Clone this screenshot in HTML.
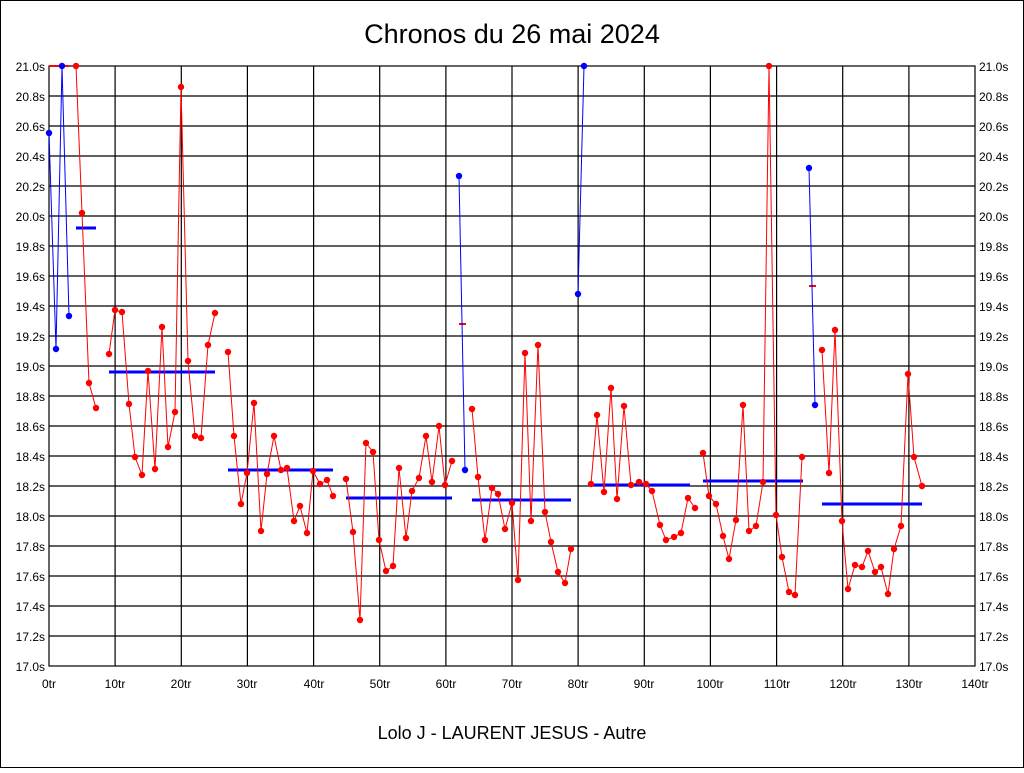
<!DOCTYPE html>
<html><head><meta charset="utf-8"><style>
body{margin:0;background:#fff;}
svg text{font-family:"Liberation Sans",sans-serif;}
</style></head><body>
<svg width="1024" height="768" viewBox="0 0 1024 768" xmlns="http://www.w3.org/2000/svg">
<rect x="0" y="0" width="1024" height="768" fill="#fff" stroke="#000" stroke-width="2"/>
<text x="512" y="43" font-size="27" text-anchor="middle">Chronos du 26 mai 2024</text>
<text x="512" y="739" font-size="18" text-anchor="middle">Lolo J - LAURENT JESUS - Autre</text>
<g stroke="#000" stroke-width="1.2" fill="none">
<rect x="49" y="66" width="926" height="600"/>
<path d="M49 96H975M49 126H975M49 156H975M49 186H975M49 216H975M49 246H975M49 276H975M49 306H975M49 336H975M49 366H975M49 396H975M49 426H975M49 456H975M49 486H975M49 516H975M49 546H975M49 576H975M49 606H975M49 636H975"/>
<path d="M115.1 66V666M181.3 66V666M247.4 66V666M313.6 66V666M379.7 66V666M445.9 66V666M512 66V666M578.1 66V666M644.3 66V666M710.4 66V666M776.6 66V666M842.7 66V666M908.9 66V666"/>
</g>
<g font-size="12" text-anchor="end">
<text x="45" y="71">21.0s</text><text x="45" y="101">20.8s</text><text x="45" y="131">20.6s</text><text x="45" y="161">20.4s</text><text x="45" y="191">20.2s</text><text x="45" y="221">20.0s</text><text x="45" y="251">19.8s</text><text x="45" y="281">19.6s</text><text x="45" y="311">19.4s</text><text x="45" y="341">19.2s</text><text x="45" y="371">19.0s</text><text x="45" y="401">18.8s</text><text x="45" y="431">18.6s</text><text x="45" y="461">18.4s</text><text x="45" y="491">18.2s</text><text x="45" y="521">18.0s</text><text x="45" y="551">17.8s</text><text x="45" y="581">17.6s</text><text x="45" y="611">17.4s</text><text x="45" y="641">17.2s</text><text x="45" y="671">17.0s</text>
</g>
<g font-size="12" text-anchor="start">
<text x="979" y="71">21.0s</text><text x="979" y="101">20.8s</text><text x="979" y="131">20.6s</text><text x="979" y="161">20.4s</text><text x="979" y="191">20.2s</text><text x="979" y="221">20.0s</text><text x="979" y="251">19.8s</text><text x="979" y="281">19.6s</text><text x="979" y="311">19.4s</text><text x="979" y="341">19.2s</text><text x="979" y="371">19.0s</text><text x="979" y="401">18.8s</text><text x="979" y="431">18.6s</text><text x="979" y="461">18.4s</text><text x="979" y="491">18.2s</text><text x="979" y="521">18.0s</text><text x="979" y="551">17.8s</text><text x="979" y="581">17.6s</text><text x="979" y="611">17.4s</text><text x="979" y="641">17.2s</text><text x="979" y="671">17.0s</text>
</g>
<g font-size="12" text-anchor="middle">
<text x="49" y="688">0tr</text><text x="115" y="688">10tr</text><text x="181" y="688">20tr</text><text x="247" y="688">30tr</text><text x="314" y="688">40tr</text><text x="380" y="688">50tr</text><text x="446" y="688">60tr</text><text x="512" y="688">70tr</text><text x="578" y="688">80tr</text><text x="644" y="688">90tr</text><text x="710" y="688">100tr</text><text x="777" y="688">110tr</text><text x="843" y="688">120tr</text><text x="909" y="688">130tr</text><text x="975" y="688">140tr</text>
</g>
<!-- averages -->
<g stroke="#00f" stroke-width="3">
<path d="M76 228H96M109 372H215M228 470H333M346 498H452M472 500H571M591 485H690M703 481H803M822 504H922"/>
</g>
<g stroke="#f00" stroke-width="2"><path d="M49 66H69M459 324H466M809 286H816"/></g>
<!-- blue series -->
<g fill="none" stroke="#00f" stroke-width="1">
<polyline points="49,133 56,349 62,66 69,316"/>
<polyline points="459,176 465,470"/>
<polyline points="578,294 584,66"/>
<polyline points="809,168 815,405"/>
</g>
<g fill="#00f">
<circle cx="49" cy="133" r="3.2"/><circle cx="56" cy="349" r="3.2"/><circle cx="62" cy="66" r="3.2"/><circle cx="69" cy="316" r="3.2"/>
<circle cx="459" cy="176" r="3.2"/><circle cx="465" cy="470" r="3.2"/>
<circle cx="578" cy="294" r="3.2"/><circle cx="584" cy="66" r="3.2"/>
<circle cx="809" cy="168" r="3.2"/><circle cx="815" cy="405" r="3.2"/>
</g>
<!-- red series -->
<g fill="none" stroke="#f00" stroke-width="1" id="r">
<polyline points="76,66 82,213 89,383 96,408"/>
<polyline points="109,354 115,310 122,312 129,404 135,457 142,475 148,371 155,469 162,327 168,447 175,412 181,87 188,361 195,436 201,438 208,345 215,313"/>
<polyline points="228,352 234,436 241,504 247,473 254,403 261,531 267,474 274,436 281,470 287,468 294,521 300,506 307,533 313,471 320,484 327,480 333,496"/>
<polyline points="346,479 353,532 360,620 366,443 373,452 379,540 386,571 393,566 399,468 406,538 412,491 419,478 426,436 432,482 439,426 445,485 452,461"/>
<polyline points="472,409 478,477 485,540 492,488 498,494 505,529 512,503 518,580 525,353 531,521 538,345 545,512 551,542 558,572 565,583 571,549"/>
<polyline points="591,484 597,415 604,492 611,388 617,499 624,406 631,485 639,482 646,484 652,491 660,525 666,540 674,537 681,533 688,498 695,508"/>
<polyline points="703,453 709,496 716,504 723,536 729,559 736,520 743,405 749,531 756,526 763,482 769,66 776,515 782,557 789,592 795,595 802,457"/>
<polyline points="822,350 829,473 835,330 842,521 848,589 855,565 862,567 868,551 875,572 881,567 888,594 894,549 901,526 908,374 914,457 922,486"/>
</g>
<g fill="#f00">
<script>0</script>
</g>
<g fill="#f00">
<circle cx="76" cy="66" r="3.2"/><circle cx="82" cy="213" r="3.2"/><circle cx="89" cy="383" r="3.2"/><circle cx="96" cy="408" r="3.2"/>
<circle cx="109" cy="354" r="3.2"/><circle cx="115" cy="310" r="3.2"/><circle cx="122" cy="312" r="3.2"/><circle cx="129" cy="404" r="3.2"/><circle cx="135" cy="457" r="3.2"/><circle cx="142" cy="475" r="3.2"/><circle cx="148" cy="371" r="3.2"/><circle cx="155" cy="469" r="3.2"/><circle cx="162" cy="327" r="3.2"/><circle cx="168" cy="447" r="3.2"/><circle cx="175" cy="412" r="3.2"/><circle cx="181" cy="87" r="3.2"/><circle cx="188" cy="361" r="3.2"/><circle cx="195" cy="436" r="3.2"/><circle cx="201" cy="438" r="3.2"/><circle cx="208" cy="345" r="3.2"/><circle cx="215" cy="313" r="3.2"/>
<circle cx="228" cy="352" r="3.2"/><circle cx="234" cy="436" r="3.2"/><circle cx="241" cy="504" r="3.2"/><circle cx="247" cy="473" r="3.2"/><circle cx="254" cy="403" r="3.2"/><circle cx="261" cy="531" r="3.2"/><circle cx="267" cy="474" r="3.2"/><circle cx="274" cy="436" r="3.2"/><circle cx="281" cy="470" r="3.2"/><circle cx="287" cy="468" r="3.2"/><circle cx="294" cy="521" r="3.2"/><circle cx="300" cy="506" r="3.2"/><circle cx="307" cy="533" r="3.2"/><circle cx="313" cy="471" r="3.2"/><circle cx="320" cy="484" r="3.2"/><circle cx="327" cy="480" r="3.2"/><circle cx="333" cy="496" r="3.2"/>
<circle cx="346" cy="479" r="3.2"/><circle cx="353" cy="532" r="3.2"/><circle cx="360" cy="620" r="3.2"/><circle cx="366" cy="443" r="3.2"/><circle cx="373" cy="452" r="3.2"/><circle cx="379" cy="540" r="3.2"/><circle cx="386" cy="571" r="3.2"/><circle cx="393" cy="566" r="3.2"/><circle cx="399" cy="468" r="3.2"/><circle cx="406" cy="538" r="3.2"/><circle cx="412" cy="491" r="3.2"/><circle cx="419" cy="478" r="3.2"/><circle cx="426" cy="436" r="3.2"/><circle cx="432" cy="482" r="3.2"/><circle cx="439" cy="426" r="3.2"/><circle cx="445" cy="485" r="3.2"/><circle cx="452" cy="461" r="3.2"/>
<circle cx="472" cy="409" r="3.2"/><circle cx="478" cy="477" r="3.2"/><circle cx="485" cy="540" r="3.2"/><circle cx="492" cy="488" r="3.2"/><circle cx="498" cy="494" r="3.2"/><circle cx="505" cy="529" r="3.2"/><circle cx="512" cy="503" r="3.2"/><circle cx="518" cy="580" r="3.2"/><circle cx="525" cy="353" r="3.2"/><circle cx="531" cy="521" r="3.2"/><circle cx="538" cy="345" r="3.2"/><circle cx="545" cy="512" r="3.2"/><circle cx="551" cy="542" r="3.2"/><circle cx="558" cy="572" r="3.2"/><circle cx="565" cy="583" r="3.2"/><circle cx="571" cy="549" r="3.2"/>
<circle cx="591" cy="484" r="3.2"/><circle cx="597" cy="415" r="3.2"/><circle cx="604" cy="492" r="3.2"/><circle cx="611" cy="388" r="3.2"/><circle cx="617" cy="499" r="3.2"/><circle cx="624" cy="406" r="3.2"/><circle cx="631" cy="485" r="3.2"/><circle cx="639" cy="482" r="3.2"/><circle cx="646" cy="484" r="3.2"/><circle cx="652" cy="491" r="3.2"/><circle cx="660" cy="525" r="3.2"/><circle cx="666" cy="540" r="3.2"/><circle cx="674" cy="537" r="3.2"/><circle cx="681" cy="533" r="3.2"/><circle cx="688" cy="498" r="3.2"/><circle cx="695" cy="508" r="3.2"/>
<circle cx="703" cy="453" r="3.2"/><circle cx="709" cy="496" r="3.2"/><circle cx="716" cy="504" r="3.2"/><circle cx="723" cy="536" r="3.2"/><circle cx="729" cy="559" r="3.2"/><circle cx="736" cy="520" r="3.2"/><circle cx="743" cy="405" r="3.2"/><circle cx="749" cy="531" r="3.2"/><circle cx="756" cy="526" r="3.2"/><circle cx="763" cy="482" r="3.2"/><circle cx="769" cy="66" r="3.2"/><circle cx="776" cy="515" r="3.2"/><circle cx="782" cy="557" r="3.2"/><circle cx="789" cy="592" r="3.2"/><circle cx="795" cy="595" r="3.2"/><circle cx="802" cy="457" r="3.2"/>
<circle cx="822" cy="350" r="3.2"/><circle cx="829" cy="473" r="3.2"/><circle cx="835" cy="330" r="3.2"/><circle cx="842" cy="521" r="3.2"/><circle cx="848" cy="589" r="3.2"/><circle cx="855" cy="565" r="3.2"/><circle cx="862" cy="567" r="3.2"/><circle cx="868" cy="551" r="3.2"/><circle cx="875" cy="572" r="3.2"/><circle cx="881" cy="567" r="3.2"/><circle cx="888" cy="594" r="3.2"/><circle cx="894" cy="549" r="3.2"/><circle cx="901" cy="526" r="3.2"/><circle cx="908" cy="374" r="3.2"/><circle cx="914" cy="457" r="3.2"/><circle cx="922" cy="486" r="3.2"/>
</g>
</svg>
</body></html>
